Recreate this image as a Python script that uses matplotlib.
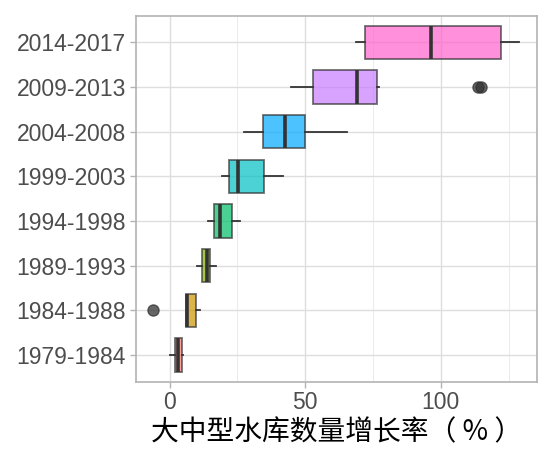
import matplotlib.pyplot as plt
from matplotlib.ticker import FixedLocator

plt.rcParams['font.family'] = ['Liberation Sans', 'DejaVu Sans']

# 各时段大中型水库数量增长率（%）的箱线统计量
periods = ['1979-1984', '1984-1988', '1989-1993', '1994-1998',
           '1999-2003', '2004-2008', '2009-2013', '2014-2017']
whislo = [0.2, 6.0, 10.2, 14.2, 19.2, 27.5, 44.6, 68.6]
q1 = [1.9, 6.0, 12.0, 16.3, 21.9, 34.3, 53.0, 72.1]
med = [3.2, 6.5, 13.9, 18.6, 25.3, 42.5, 69.0, 96.4]
q3 = [4.5, 9.7, 15.0, 23.0, 34.7, 50.0, 76.4, 122.3]
whishi = [5.0, 11.2, 17.1, 26.0, 41.7, 65.5, 77.3, 129.0]
fliers = [[], [-6.2], [], [], [], [], [113.6, 115.0], []]
colors = ['#F8766D', '#CD9600', '#7CAE00', '#00BE67',
          '#00BFC4', '#00A9FF', '#C77CFF', '#FF61CC']

stats = []
for i in range(len(periods)):
    stats.append(dict(whislo=whislo[i], q1=q1[i], med=med[i], q3=q3[i],
                      whishi=whishi[i], fliers=fliers[i], label=periods[i]))

fig = plt.figure(figsize=(5.52, 4.70), dpi=100)
ax = fig.add_axes([0.2458, 0.1879, 0.9734 - 0.2458, 0.9666 - 0.1879])

pos = list(range(1, len(periods) + 1))
bp = ax.bxp(stats, positions=pos, vert=False, widths=0.75, patch_artist=True,
            showcaps=False,
            boxprops=dict(edgecolor='#333333', linewidth=1.3),
            whiskerprops=dict(color='#333333', linewidth=1.3),
            medianprops=dict(color='#333333', linewidth=2.6),
            flierprops=dict(marker='o', markersize=8, markerfacecolor='#333333',
                            markeredgecolor='#333333', alpha=0.75))
for patch, c in zip(bp['boxes'], colors):
    patch.set_facecolor(c)
    patch.set_alpha(0.7)
    patch.set_edgecolor('#333333')
for m in bp['medians']:
    m.set_solid_capstyle('butt')

ax.set_xlim(-12.5, 135.6)
ax.set_ylim(0.4, 8.6)
ax.set_yticks(pos)
ax.set_yticklabels(periods)
ax.set_xticks([0, 50, 100])
ax.xaxis.set_minor_locator(FixedLocator([25, 75, 125]))

ax.set_axisbelow(True)
ax.grid(which='major', color='#DEDEDE', linewidth=1.0)
ax.grid(which='minor', axis='x', color='#E8E8E8', linewidth=0.6)
for s in ax.spines.values():
    s.set_color('#B3B3B3')
    s.set_linewidth(1.2)

ax.tick_params(axis='both', which='major', length=4, width=1, color='#B3B3B3',
               labelsize=16.5, labelcolor='#4D4D4D', pad=3)
ax.tick_params(axis='x', which='minor', length=0)

ax.set_xlabel('大中型水库数量增长率（ % ）', fontsize=20, color='black',
              family=['Noto Sans CJK SC', 'DejaVu Sans'], labelpad=2)

plt.savefig('out.png', dpi=100)
